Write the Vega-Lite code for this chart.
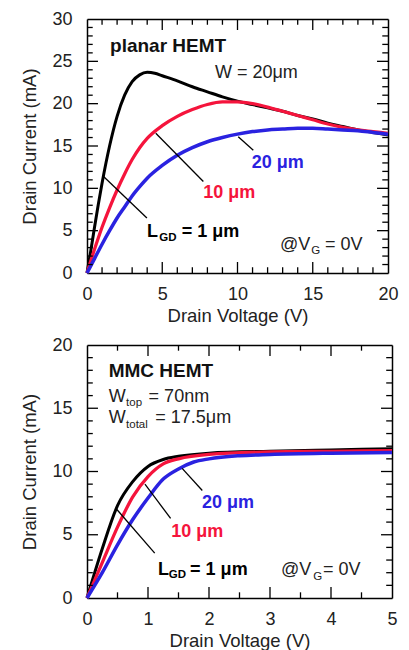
{
  "$schema": "https://vega.github.io/schema/vega-lite/v6.json",
  "padding": {"left": 20, "top": 10, "right": 5, "bottom": 0},
  "spacing": 11,
  "config": {
    "font": "Liberation Sans",
    "view": {"stroke": null},
    "axis": {
      "grid": false,
      "ticks": false,
      "domainColor": "#000",
      "domainWidth": 1.5,
      "labelFont": "Liberation Sans",
      "labelFontSize": 18,
      "labelColor": "#222",
      "labelOverlap": false,
      "labelFlush": false,
      "titleFont": "Liberation Sans",
      "titleFontSize": 18.5,
      "titleFontWeight": "normal",
      "titleColor": "#222"
    }
  },
  "vconcat": [
    {
      "width": 301,
      "height": 254,
      "resolve": {"axis": {"x": "independent", "y": "independent"}},
      "layer": [
        {
          "data": {"values": [
            {"s":"1","v":0,"i":0},{"s":"1","v":0.25,"i":2.6},{"s":"1","v":0.5,"i":5.4},{"s":"1","v":0.75,"i":8.1},{"s":"1","v":1,"i":10.6},{"s":"1","v":1.5,"i":15.0},{"s":"1","v":2,"i":18.5},{"s":"1","v":2.5,"i":21.0},{"s":"1","v":3,"i":22.6},{"s":"1","v":3.5,"i":23.4},{"s":"1","v":4,"i":23.7},{"s":"1","v":4.5,"i":23.6},{"s":"1","v":5,"i":23.3},{"s":"1","v":6,"i":22.7},{"s":"1","v":7,"i":22.0},{"s":"1","v":8,"i":21.4},{"s":"1","v":9,"i":20.8},{"s":"1","v":10,"i":20.3},{"s":"1","v":11,"i":19.9},{"s":"1","v":12,"i":19.5},{"s":"1","v":13,"i":19.1},{"s":"1","v":14,"i":18.6},{"s":"1","v":15,"i":18.2},{"s":"1","v":16,"i":17.7},{"s":"1","v":17,"i":17.3},{"s":"1","v":18,"i":16.9},{"s":"1","v":19,"i":16.6},{"s":"1","v":20,"i":16.3},
            {"s":"10","v":0,"i":0},{"s":"10","v":0.5,"i":2.8},{"s":"10","v":1,"i":5.4},{"s":"10","v":1.5,"i":7.7},{"s":"10","v":2,"i":9.8},{"s":"10","v":2.5,"i":11.7},{"s":"10","v":3,"i":13.4},{"s":"10","v":3.5,"i":14.8},{"s":"10","v":4,"i":15.9},{"s":"10","v":5,"i":17.4},{"s":"10","v":6,"i":18.5},{"s":"10","v":7,"i":19.3},{"s":"10","v":8,"i":19.9},{"s":"10","v":9,"i":20.2},{"s":"10","v":10,"i":20.2},{"s":"10","v":11,"i":20.0},{"s":"10","v":12,"i":19.6},{"s":"10","v":13,"i":19.1},{"s":"10","v":14,"i":18.6},{"s":"10","v":15,"i":18.1},{"s":"10","v":16,"i":17.6},{"s":"10","v":17,"i":17.2},{"s":"10","v":18,"i":16.9},{"s":"10","v":19,"i":16.7},{"s":"10","v":20,"i":16.5},
            {"s":"20","v":0,"i":0},{"s":"20","v":0.5,"i":1.7},{"s":"20","v":1,"i":3.4},{"s":"20","v":1.5,"i":5.0},{"s":"20","v":2,"i":6.5},{"s":"20","v":2.5,"i":7.8},{"s":"20","v":3,"i":9.1},{"s":"20","v":3.5,"i":10.2},{"s":"20","v":4,"i":11.2},{"s":"20","v":5,"i":12.7},{"s":"20","v":6,"i":13.9},{"s":"20","v":7,"i":14.8},{"s":"20","v":8,"i":15.5},{"s":"20","v":9,"i":16.0},{"s":"20","v":10,"i":16.4},{"s":"20","v":11,"i":16.7},{"s":"20","v":12,"i":16.9},{"s":"20","v":13,"i":17.0},{"s":"20","v":14,"i":17.1},{"s":"20","v":15,"i":17.1},{"s":"20","v":16,"i":17.0},{"s":"20","v":17,"i":16.9},{"s":"20","v":18,"i":16.8},{"s":"20","v":19,"i":16.6},{"s":"20","v":20,"i":16.4}
          ]},
          "mark": {"type": "line", "interpolate": "monotone"},
          "encoding": {
            "x": {"field": "v", "type": "quantitative", "scale": {"domain": [0, 20], "nice": false},
              "axis": {"orient": "bottom", "title": "Drain Voltage (V)", "values": [0,5,10,15,20], "labelPadding": 12, "titlePadding": 3}},
            "y": {"field": "i", "type": "quantitative", "scale": {"domain": [0, 30], "nice": false},
              "axis": {"orient": "left", "title": "Drain Current (mA)", "values": [0,5,10,15,20,25,30], "labelPadding": 15, "titlePadding": 12}},
            "color": {"field": "s", "type": "nominal", "scale": {"domain": ["1","10","20"], "range": ["#000000", "#f5143c", "#2a22e0"]}, "legend": null},
            "strokeWidth": {"field": "s", "type": "ordinal", "scale": {"domain": ["1","10","20"], "range": [3, 3.5, 4]}, "legend": null}
          }
        },
        {
          "data": {"values": [
            {"x": 1.1, "y": 11.4, "x2": 3.98, "y2": 6.5},
            {"x": 4.57, "y": 16.5, "x2": 7.73, "y2": 10.8},
            {"x": 10.05, "y": 16.1, "x2": 11.05, "y2": 14.5}
          ]},
          "mark": {"type": "rule", "color": "#000", "strokeWidth": 1.3},
          "encoding": {
            "x": {"field": "x", "type": "quantitative",
              "axis": {"orient": "top", "title": null, "labels": false, "values": [0,5,10,15,20]}},
            "y": {"field": "y", "type": "quantitative",
              "axis": {"orient": "right", "title": null, "labels": false, "values": [0,5,10,15,20,25,30]}},
            "x2": {"field": "x2"},
            "y2": {"field": "y2"}
          }
        },
        {
          "data": {"values": [
            {"x":5,"y":0,"x2":5,"y2":1.3},{"x":10,"y":0,"x2":10,"y2":1.3},{"x":15,"y":0,"x2":15,"y2":1.3},
            {"x":1,"y":0,"x2":1,"y2":0.68},{"x":2,"y":0,"x2":2,"y2":0.68},{"x":3,"y":0,"x2":3,"y2":0.68},{"x":4,"y":0,"x2":4,"y2":0.68},{"x":6,"y":0,"x2":6,"y2":0.68},{"x":7,"y":0,"x2":7,"y2":0.68},{"x":8,"y":0,"x2":8,"y2":0.68},{"x":9,"y":0,"x2":9,"y2":0.68},{"x":11,"y":0,"x2":11,"y2":0.68},{"x":12,"y":0,"x2":12,"y2":0.68},{"x":13,"y":0,"x2":13,"y2":0.68},{"x":14,"y":0,"x2":14,"y2":0.68},{"x":16,"y":0,"x2":16,"y2":0.68},{"x":17,"y":0,"x2":17,"y2":0.68},{"x":18,"y":0,"x2":18,"y2":0.68},{"x":19,"y":0,"x2":19,"y2":0.68},
            {"x":5,"y":30,"x2":5,"y2":28.7},{"x":10,"y":30,"x2":10,"y2":28.7},{"x":15,"y":30,"x2":15,"y2":28.7},
            {"x":1,"y":30,"x2":1,"y2":29.32},{"x":2,"y":30,"x2":2,"y2":29.32},{"x":3,"y":30,"x2":3,"y2":29.32},{"x":4,"y":30,"x2":4,"y2":29.32},{"x":6,"y":30,"x2":6,"y2":29.32},{"x":7,"y":30,"x2":7,"y2":29.32},{"x":8,"y":30,"x2":8,"y2":29.32},{"x":9,"y":30,"x2":9,"y2":29.32},{"x":11,"y":30,"x2":11,"y2":29.32},{"x":12,"y":30,"x2":12,"y2":29.32},{"x":13,"y":30,"x2":13,"y2":29.32},{"x":14,"y":30,"x2":14,"y2":29.32},{"x":16,"y":30,"x2":16,"y2":29.32},{"x":17,"y":30,"x2":17,"y2":29.32},{"x":18,"y":30,"x2":18,"y2":29.32},{"x":19,"y":30,"x2":19,"y2":29.32},
            {"x":0,"y":5,"x2":0.73,"y2":5},{"x":0,"y":10,"x2":0.73,"y2":10},{"x":0,"y":15,"x2":0.73,"y2":15},{"x":0,"y":20,"x2":0.73,"y2":20},{"x":0,"y":25,"x2":0.73,"y2":25},
            {"x":0,"y":1,"x2":0.38,"y2":1},{"x":0,"y":2,"x2":0.38,"y2":2},{"x":0,"y":3,"x2":0.38,"y2":3},{"x":0,"y":4,"x2":0.38,"y2":4},{"x":0,"y":6,"x2":0.38,"y2":6},{"x":0,"y":7,"x2":0.38,"y2":7},{"x":0,"y":8,"x2":0.38,"y2":8},{"x":0,"y":9,"x2":0.38,"y2":9},{"x":0,"y":11,"x2":0.38,"y2":11},{"x":0,"y":12,"x2":0.38,"y2":12},{"x":0,"y":13,"x2":0.38,"y2":13},{"x":0,"y":14,"x2":0.38,"y2":14},{"x":0,"y":16,"x2":0.38,"y2":16},{"x":0,"y":17,"x2":0.38,"y2":17},{"x":0,"y":18,"x2":0.38,"y2":18},{"x":0,"y":19,"x2":0.38,"y2":19},{"x":0,"y":21,"x2":0.38,"y2":21},{"x":0,"y":22,"x2":0.38,"y2":22},{"x":0,"y":23,"x2":0.38,"y2":23},{"x":0,"y":24,"x2":0.38,"y2":24},{"x":0,"y":26,"x2":0.38,"y2":26},{"x":0,"y":27,"x2":0.38,"y2":27},{"x":0,"y":28,"x2":0.38,"y2":28},{"x":0,"y":29,"x2":0.38,"y2":29},
            {"x":20,"y":5,"x2":19.27,"y2":5},{"x":20,"y":10,"x2":19.27,"y2":10},{"x":20,"y":15,"x2":19.27,"y2":15},{"x":20,"y":20,"x2":19.27,"y2":20},{"x":20,"y":25,"x2":19.27,"y2":25},
            {"x":20,"y":1,"x2":19.62,"y2":1},{"x":20,"y":2,"x2":19.62,"y2":2},{"x":20,"y":3,"x2":19.62,"y2":3},{"x":20,"y":4,"x2":19.62,"y2":4},{"x":20,"y":6,"x2":19.62,"y2":6},{"x":20,"y":7,"x2":19.62,"y2":7},{"x":20,"y":8,"x2":19.62,"y2":8},{"x":20,"y":9,"x2":19.62,"y2":9},{"x":20,"y":11,"x2":19.62,"y2":11},{"x":20,"y":12,"x2":19.62,"y2":12},{"x":20,"y":13,"x2":19.62,"y2":13},{"x":20,"y":14,"x2":19.62,"y2":14},{"x":20,"y":16,"x2":19.62,"y2":16},{"x":20,"y":17,"x2":19.62,"y2":17},{"x":20,"y":18,"x2":19.62,"y2":18},{"x":20,"y":19,"x2":19.62,"y2":19},{"x":20,"y":21,"x2":19.62,"y2":21},{"x":20,"y":22,"x2":19.62,"y2":22},{"x":20,"y":23,"x2":19.62,"y2":23},{"x":20,"y":24,"x2":19.62,"y2":24},{"x":20,"y":26,"x2":19.62,"y2":26},{"x":20,"y":27,"x2":19.62,"y2":27},{"x":20,"y":28,"x2":19.62,"y2":28},{"x":20,"y":29,"x2":19.62,"y2":29}
          ]},
          "mark": {"type": "rule", "color": "#000", "strokeWidth": 1.3},
          "encoding": {
            "x": {"field": "x", "type": "quantitative", "axis": null},
            "y": {"field": "y", "type": "quantitative", "axis": null},
            "x2": {"field": "x2"},
            "y2": {"field": "y2"}
          }
        },
        {
          "data": {"values": [{"t": "planar HEMT", "x": 1.53, "y": 26.1}]},
          "mark": {"type": "text", "align": "left", "baseline": "alphabetic", "fontSize": 19, "fontWeight": "bold", "color": "#111"},
          "encoding": {"x": {"field": "x", "type": "quantitative", "axis": null}, "y": {"field": "y", "type": "quantitative", "axis": null}, "text": {"field": "t"}}
        },
        {
          "data": {"values": [
            {"t": "W = 20μm", "x": 8.5, "y": 23.0},
            {"t": "@V", "x": 12.82, "y": 2.72},
            {"t": "= 0V", "x": 15.81, "y": 2.72}
          ]},
          "mark": {"type": "text", "align": "left", "baseline": "alphabetic", "fontSize": 18, "color": "#222"},
          "encoding": {"x": {"field": "x", "type": "quantitative", "axis": null}, "y": {"field": "y", "type": "quantitative", "axis": null}, "text": {"field": "t"}}
        },
        {
          "data": {"values": [{"t": "G", "x": 14.9, "y": 2.3}]},
          "mark": {"type": "text", "align": "left", "baseline": "alphabetic", "fontSize": 11.5, "color": "#222"},
          "encoding": {"x": {"field": "x", "type": "quantitative", "axis": null}, "y": {"field": "y", "type": "quantitative", "axis": null}, "text": {"field": "t"}}
        },
        {
          "data": {"values": [
            {"t": "L", "s": "1", "x": 3.98, "y": 4.2},
            {"t": "= 1 μm", "s": "1", "x": 6.29, "y": 4.2},
            {"t": "10 μm", "s": "10", "x": 7.73, "y": 8.82},
            {"t": "20 μm", "s": "20", "x": 10.94, "y": 12.36}
          ]},
          "mark": {"type": "text", "align": "left", "baseline": "alphabetic", "fontSize": 18, "fontWeight": "bold"},
          "encoding": {"x": {"field": "x", "type": "quantitative", "axis": null}, "y": {"field": "y", "type": "quantitative", "axis": null}, "text": {"field": "t"},
            "color": {"field": "s", "type": "nominal", "legend": null}}
        },
        {
          "data": {"values": [{"t": "GD", "x": 4.8, "y": 3.8}]},
          "mark": {"type": "text", "align": "left", "baseline": "alphabetic", "fontSize": 11.5, "fontWeight": "bold", "color": "#000"},
          "encoding": {"x": {"field": "x", "type": "quantitative", "axis": null}, "y": {"field": "y", "type": "quantitative", "axis": null}, "text": {"field": "t"}}
        }
      ]
    },
    {
      "width": 305,
      "height": 253,
      "resolve": {"axis": {"x": "independent", "y": "independent"}},
      "layer": [
        {
          "data": {"values": [
            {"s":"1","v":0,"i":0},{"s":"1","v":0.25,"i":3.9},{"s":"1","v":0.5,"i":7.3},{"s":"1","v":0.75,"i":9.2},{"s":"1","v":1,"i":10.4},{"s":"1","v":1.25,"i":10.95},{"s":"1","v":1.5,"i":11.2},{"s":"1","v":2,"i":11.45},{"s":"1","v":3,"i":11.6},{"s":"1","v":4,"i":11.7},{"s":"1","v":5,"i":11.8},
            {"s":"10","v":0,"i":0},{"s":"10","v":0.25,"i":2.8},{"s":"10","v":0.5,"i":5.6},{"s":"10","v":0.75,"i":8.0},{"s":"10","v":1,"i":9.6},{"s":"10","v":1.25,"i":10.6},{"s":"10","v":1.5,"i":11.0},{"s":"10","v":2,"i":11.35},{"s":"10","v":3,"i":11.55},{"s":"10","v":4,"i":11.6},{"s":"10","v":5,"i":11.65},
            {"s":"20","v":0,"i":0},{"s":"20","v":0.25,"i":2.0},{"s":"20","v":0.5,"i":4.2},{"s":"20","v":0.75,"i":6.2},{"s":"20","v":1,"i":7.9},{"s":"20","v":1.25,"i":9.4},{"s":"20","v":1.5,"i":10.2},{"s":"20","v":1.75,"i":10.75},{"s":"20","v":2,"i":11.0},{"s":"20","v":2.5,"i":11.25},{"s":"20","v":3,"i":11.35},{"s":"20","v":4,"i":11.45},{"s":"20","v":5,"i":11.5}
          ]},
          "mark": {"type": "line", "interpolate": "monotone"},
          "encoding": {
            "x": {"field": "v", "type": "quantitative", "scale": {"domain": [0, 5], "nice": false},
              "axis": {"orient": "bottom", "title": "Drain Voltage (V)", "values": [0,1,2,3,4,5], "format": "d", "labelPadding": 12, "titlePadding": 3}},
            "y": {"field": "i", "type": "quantitative", "scale": {"domain": [0, 20], "nice": false},
              "axis": {"orient": "left", "title": "Drain Current (mA)", "values": [0,5,10,15,20], "labelPadding": 15, "titlePadding": 12}},
            "color": {"field": "s", "type": "nominal", "scale": {"domain": ["1","10","20"], "range": ["#000000", "#f5143c", "#2a22e0"]}, "legend": null},
            "strokeWidth": {"field": "s", "type": "ordinal", "scale": {"domain": ["1","10","20"], "range": [3, 3.5, 4]}, "legend": null}
          }
        },
        {
          "data": {"values": [
            {"x": 0.49, "y": 7.0, "x2": 1.11, "y2": 3.55},
            {"x": 0.95, "y": 9.0, "x2": 1.37, "y2": 6.3},
            {"x": 1.56, "y": 10.25, "x2": 1.89, "y2": 8.5}
          ]},
          "mark": {"type": "rule", "color": "#000", "strokeWidth": 1.3},
          "encoding": {
            "x": {"field": "x", "type": "quantitative",
              "axis": {"orient": "top", "title": null, "labels": false, "values": [0,1,2,3,4,5]}},
            "y": {"field": "y", "type": "quantitative",
              "axis": {"orient": "right", "title": null, "labels": false, "values": [0,5,10,15,20]}},
            "x2": {"field": "x2"},
            "y2": {"field": "y2"}
          }
        },
        {
          "data": {"values": [
            {"x":1,"y":0,"x2":1,"y2":0.87},{"x":2,"y":0,"x2":2,"y2":0.87},{"x":3,"y":0,"x2":3,"y2":0.87},{"x":4,"y":0,"x2":4,"y2":0.87},
            {"x":0.5,"y":0,"x2":0.5,"y2":0.45},{"x":1.5,"y":0,"x2":1.5,"y2":0.45},{"x":2.5,"y":0,"x2":2.5,"y2":0.45},{"x":3.5,"y":0,"x2":3.5,"y2":0.45},{"x":4.5,"y":0,"x2":4.5,"y2":0.45},
            {"x":1,"y":20,"x2":1,"y2":19.13},{"x":2,"y":20,"x2":2,"y2":19.13},{"x":3,"y":20,"x2":3,"y2":19.13},{"x":4,"y":20,"x2":4,"y2":19.13},
            {"x":0.5,"y":20,"x2":0.5,"y2":19.55},{"x":1.5,"y":20,"x2":1.5,"y2":19.55},{"x":2.5,"y":20,"x2":2.5,"y2":19.55},{"x":3.5,"y":20,"x2":3.5,"y2":19.55},{"x":4.5,"y":20,"x2":4.5,"y2":19.55},
            {"x":0,"y":5,"x2":0.18,"y2":5},{"x":0,"y":10,"x2":0.18,"y2":10},{"x":0,"y":15,"x2":0.18,"y2":15},
            {"x":0,"y":1,"x2":0.095,"y2":1},{"x":0,"y":2,"x2":0.095,"y2":2},{"x":0,"y":3,"x2":0.095,"y2":3},{"x":0,"y":4,"x2":0.095,"y2":4},{"x":0,"y":6,"x2":0.095,"y2":6},{"x":0,"y":7,"x2":0.095,"y2":7},{"x":0,"y":8,"x2":0.095,"y2":8},{"x":0,"y":9,"x2":0.095,"y2":9},{"x":0,"y":11,"x2":0.095,"y2":11},{"x":0,"y":12,"x2":0.095,"y2":12},{"x":0,"y":13,"x2":0.095,"y2":13},{"x":0,"y":14,"x2":0.095,"y2":14},{"x":0,"y":16,"x2":0.095,"y2":16},{"x":0,"y":17,"x2":0.095,"y2":17},{"x":0,"y":18,"x2":0.095,"y2":18},{"x":0,"y":19,"x2":0.095,"y2":19},
            {"x":5,"y":5,"x2":4.82,"y2":5},{"x":5,"y":10,"x2":4.82,"y2":10},{"x":5,"y":15,"x2":4.82,"y2":15},
            {"x":5,"y":1,"x2":4.905,"y2":1},{"x":5,"y":2,"x2":4.905,"y2":2},{"x":5,"y":3,"x2":4.905,"y2":3},{"x":5,"y":4,"x2":4.905,"y2":4},{"x":5,"y":6,"x2":4.905,"y2":6},{"x":5,"y":7,"x2":4.905,"y2":7},{"x":5,"y":8,"x2":4.905,"y2":8},{"x":5,"y":9,"x2":4.905,"y2":9},{"x":5,"y":11,"x2":4.905,"y2":11},{"x":5,"y":12,"x2":4.905,"y2":12},{"x":5,"y":13,"x2":4.905,"y2":13},{"x":5,"y":14,"x2":4.905,"y2":14},{"x":5,"y":16,"x2":4.905,"y2":16},{"x":5,"y":17,"x2":4.905,"y2":17},{"x":5,"y":18,"x2":4.905,"y2":18},{"x":5,"y":19,"x2":4.905,"y2":19}
          ]},
          "mark": {"type": "rule", "color": "#000", "strokeWidth": 1.3},
          "encoding": {
            "x": {"field": "x", "type": "quantitative", "axis": null},
            "y": {"field": "y", "type": "quantitative", "axis": null},
            "x2": {"field": "x2"},
            "y2": {"field": "y2"}
          }
        },
        {
          "data": {"values": [{"t": "MMC HEMT", "x": 0.355, "y": 17.5}]},
          "mark": {"type": "text", "align": "left", "baseline": "alphabetic", "fontSize": 19, "fontWeight": "bold", "color": "#111"},
          "encoding": {"x": {"field": "x", "type": "quantitative", "axis": null}, "y": {"field": "y", "type": "quantitative", "axis": null}, "text": {"field": "t"}}
        },
        {
          "data": {"values": [
            {"t": "W", "x": 0.355, "y": 15.52},
            {"t": "= 70nm", "x": 1.01, "y": 15.52},
            {"t": "W", "x": 0.355, "y": 13.86},
            {"t": "= 17.5μm", "x": 1.12, "y": 13.86},
            {"t": "@V", "x": 3.18, "y": 1.82},
            {"t": "= 0V", "x": 3.87, "y": 1.82}
          ]},
          "mark": {"type": "text", "align": "left", "baseline": "alphabetic", "fontSize": 18, "color": "#222"},
          "encoding": {"x": {"field": "x", "type": "quantitative", "axis": null}, "y": {"field": "y", "type": "quantitative", "axis": null}, "text": {"field": "t"}}
        },
        {
          "data": {"values": [
            {"t": "top", "x": 0.64, "y": 15.15},
            {"t": "total", "x": 0.64, "y": 13.47},
            {"t": "G", "x": 3.71, "y": 1.45}
          ]},
          "mark": {"type": "text", "align": "left", "baseline": "alphabetic", "fontSize": 11.5, "color": "#222"},
          "encoding": {"x": {"field": "x", "type": "quantitative", "axis": null}, "y": {"field": "y", "type": "quantitative", "axis": null}, "text": {"field": "t"}}
        },
        {
          "data": {"values": [
            {"t": "L", "s": "1", "x": 1.164, "y": 1.82},
            {"t": "= 1 μm", "s": "1", "x": 1.69, "y": 1.82},
            {"t": "10 μm", "s": "10", "x": 1.38, "y": 4.85},
            {"t": "20 μm", "s": "20", "x": 1.885, "y": 7.09}
          ]},
          "mark": {"type": "text", "align": "left", "baseline": "alphabetic", "fontSize": 18, "fontWeight": "bold"},
          "encoding": {"x": {"field": "x", "type": "quantitative", "axis": null}, "y": {"field": "y", "type": "quantitative", "axis": null}, "text": {"field": "t"},
            "color": {"field": "s", "type": "nominal", "legend": null}}
        },
        {
          "data": {"values": [{"t": "GD", "x": 1.34, "y": 1.55}]},
          "mark": {"type": "text", "align": "left", "baseline": "alphabetic", "fontSize": 11.5, "fontWeight": "bold", "color": "#000"},
          "encoding": {"x": {"field": "x", "type": "quantitative", "axis": null}, "y": {"field": "y", "type": "quantitative", "axis": null}, "text": {"field": "t"}}
        }
      ]
    }
  ]
}
